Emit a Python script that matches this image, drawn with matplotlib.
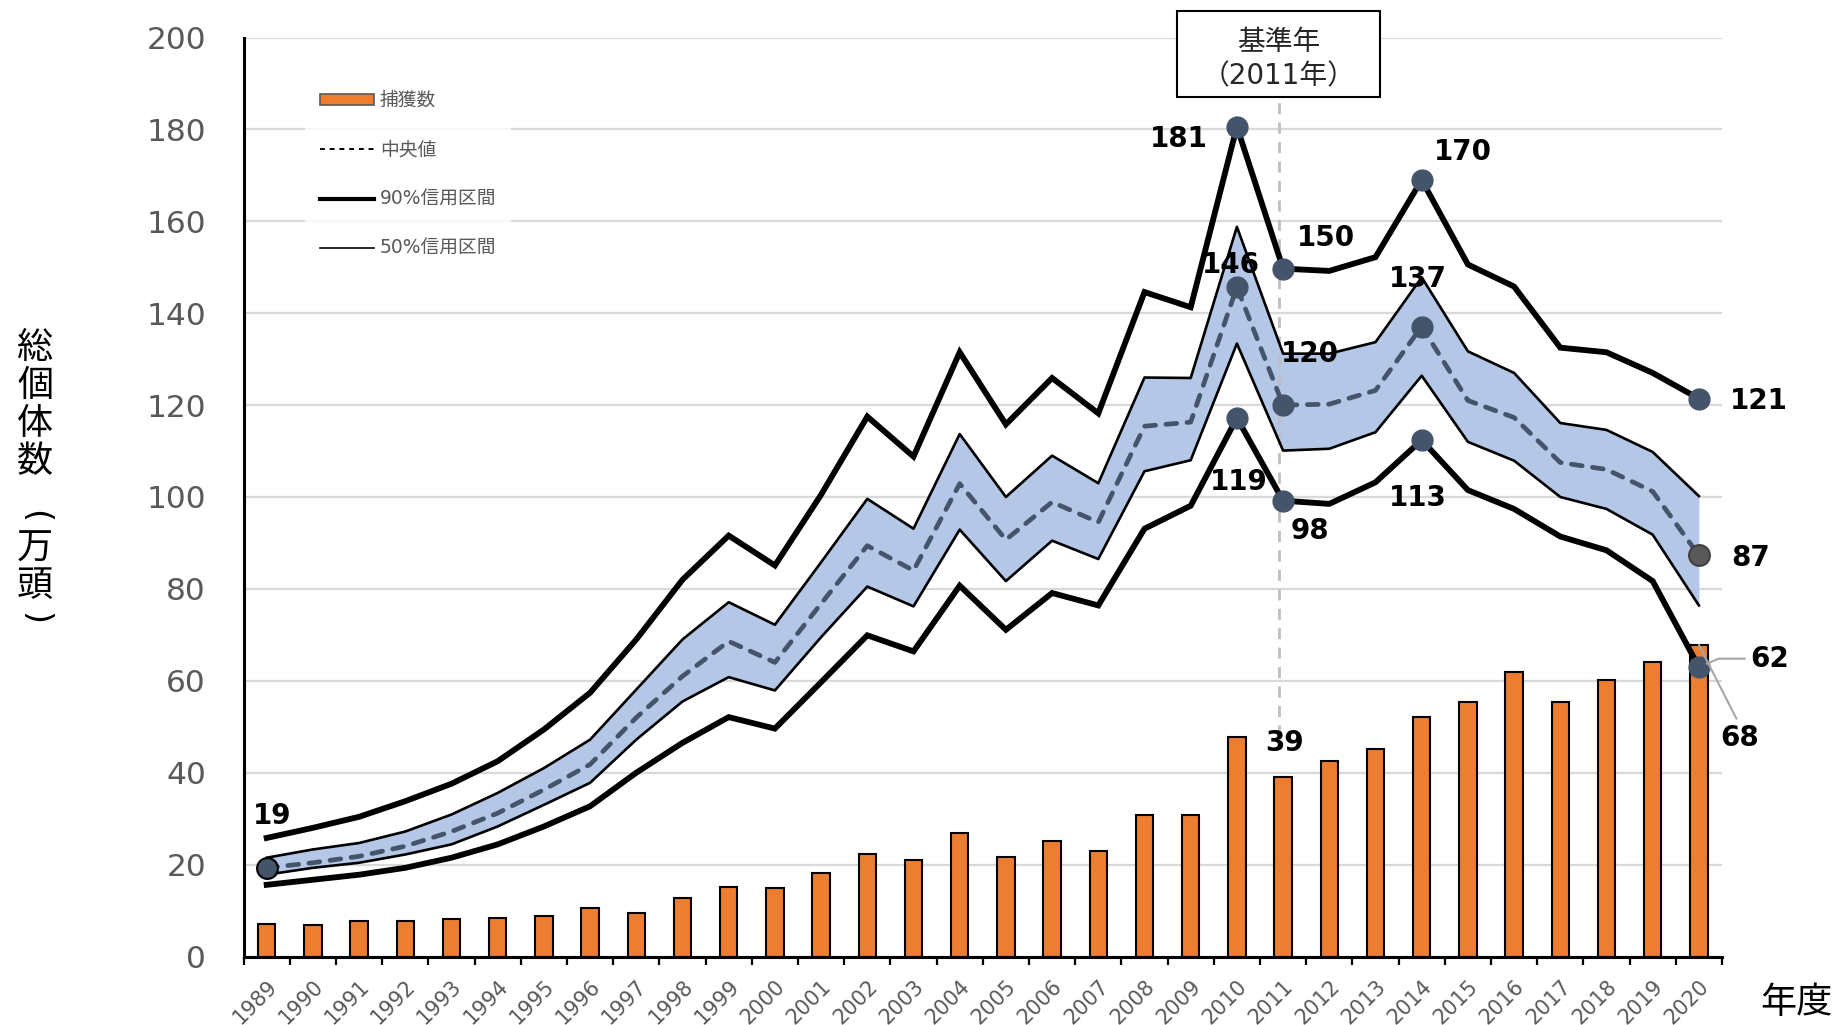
import numpy as np
import matplotlib
matplotlib.use("Agg")
import matplotlib.pyplot as plt
from matplotlib.patches import Patch, Rectangle
from matplotlib.lines import Line2D

plt.rcParams['font.family'] = ['DejaVu Sans', 'Noto Sans CJK JP']

# ---------------- data ----------------
years = [str(y) for y in range(1989, 2021)]

catch = [7.0, 6.9, 7.7, 7.8, 8.2, 8.4, 8.8, 10.5, 9.4, 12.8, 15.1, 14.8, 18.2,
         22.2, 20.9, 26.8, 21.6, 25.2, 23.0, 30.7, 30.8, 47.7, 39.0, 42.5,
         45.2, 52.1, 55.3, 62.0, 55.3, 60.2, 64.1, 67.8]

upper90 = [25.8, 28.0, 30.4, 33.8, 37.6, 42.5, 49.4, 57.4, 69.0, 82.0, 91.6,
           85.1, 100.5, 117.5, 108.8, 131.5, 115.8, 125.9, 118.2, 144.6, 141.3,
           180.6, 149.7, 149.2, 152.2, 169.0, 150.6, 145.8, 132.5, 131.5, 127.0,
           121.4]

upper50 = [21.5, 23.3, 24.7, 27.2, 30.9, 35.6, 41.0, 47.2, 58.1, 69.0, 77.1,
           72.2, 85.8, 99.6, 93.1, 113.7, 100.0, 109.0, 103.0, 126.0, 125.9,
           158.8, 131.2, 131.2, 133.7, 147.8, 131.7, 127.0, 116.1, 114.6, 109.8,
           100.2]

median = [19.3, 20.4, 21.8, 24.0, 27.2, 31.2, 36.3, 41.8, 52.0, 61.0, 68.6,
          64.0, 76.8, 89.4, 84.0, 102.9, 90.7, 98.9, 94.5, 115.4, 116.3,
          145.7, 120.0, 120.2, 123.2, 137.1, 121.0, 117.3, 107.5, 106.0, 101.2,
          87.3]

lower50 = [17.8, 19.3, 20.4, 22.2, 24.4, 28.3, 33.0, 37.8, 47.2, 55.5, 60.8,
           57.9, 69.5, 80.5, 76.2, 92.9, 81.7, 90.5, 86.5, 105.6, 108.0,
           133.4, 110.1, 110.5, 114.1, 126.4, 112.0, 107.9, 100.0, 97.4, 91.8,
           76.4]

lower90 = [15.6, 16.7, 17.8, 19.3, 21.5, 24.4, 28.3, 32.7, 40.0, 46.5, 52.1,
           49.6, 59.7, 69.9, 66.4, 80.7, 71.1, 79.1, 76.4, 93.1, 98.1,
           117.2, 99.2, 98.5, 103.2, 112.4, 101.5, 97.4, 91.4, 88.4, 81.7,
           63.0]

# highlighted years and their labels
mark_years = ['2010', '2011', '2014', '2020']
upper_labels = ['181', '150', '170', '121']
median_labels = ['146', '120', '137', '87']
lower_labels = ['119', '98', '113', '62']
start_label = '19'
bar_label_years = ['2011', '2020']
bar_labels = ['39', '68']

legend_labels = ['捕獲数', '中央値', '90%信用区間', '50%信用区間']
ylabel_chars = ['総', '個', '体', '数', '(', '万', '頭', ')']
xlabel = '年度'
base_year_text = '基準年\n（2011年）'
base_year = '2011'

# ---------------- style ----------------
ORANGE = '#ED7D31'
BAND = '#B4C7E7'
SLATE = '#44546A'
GRAY_TXT = '#595959'
GRID = '#D9D9D9'

W, H = 1838, 1025
fig = plt.figure(figsize=(W / 100, H / 100), dpi=100)
ax = fig.add_axes([243.6 / W, 1 - 956.5 / H, 1478.4 / W, 919 / H])

x = np.arange(len(years))
idx = {y: i for i, y in enumerate(years)}

ax.set_xlim(-0.5, len(years) - 0.5)
ax.set_ylim(0, 200)

# grid
ax.set_yticks(np.arange(0, 201, 20))
ax.yaxis.grid(True, color=GRID, lw=1.6, zorder=0)
ax.set_axisbelow(True)

# bars
ax.bar(x, catch, width=0.38, color=ORANGE, edgecolor='black', lw=1.5, zorder=2)

# band and lines
ax.fill_between(x, lower50, upper50, color=BAND, lw=0, zorder=3)
bx = idx[base_year] - 0.08
ax.plot([bx, bx], [48, 200], color='#BFBFBF', lw=2.0, dashes=(4, 3), zorder=3.5)
ax.plot(x, upper50, color='black', lw=1.9, zorder=4)
ax.plot(x, lower50, color='black', lw=1.9, zorder=4)
ax.plot(x, upper90, color='black', lw=4.2, zorder=4.2, solid_joinstyle='miter')
ax.plot(x, lower90, color='black', lw=4.2, zorder=4.2, solid_joinstyle='miter')
ax.plot(x, median, color=SLATE, lw=3.4, dashes=(2.3, 2.2), dash_capstyle='round',
        zorder=4.5)

# markers
mi = [idx[y] for y in mark_years]
ax.plot(mi, [upper90[i] for i in mi], 'o', ms=15, color=SLATE, zorder=6)
ax.plot(mi[:-1], [median[i] for i in mi[:-1]], 'o', ms=15, color=SLATE, zorder=6)
ax.plot(mi, [lower90[i] for i in mi], 'o', ms=15, color=SLATE, zorder=6)
ax.plot([mi[-1]], [median[mi[-1]]], 'o', ms=15, mfc=GRAY_TXT, mec='#404040',
        mew=1.5, zorder=6)
ax.plot([0], [median[0]], 'o', ms=15, mfc=SLATE, mec='black', mew=1.5, zorder=6)

# data labels
lab_kw = dict(fontsize=20, fontweight='bold', color='black', ha='center',
              va='center', textcoords='offset points', zorder=10)
up_off = [(-42, -9), (31, 22), (30, 20), (43, -2)]
med_off = [(-4, 16), (19, 37), (-3, 34), (37, -2)]
low_off = [(1, -46), (19, -22), (-3, -42), (51, 6)]
for k, i in enumerate(mi):
    ax.annotate(upper_labels[k], (i, upper90[i]), xytext=up_off[k], **lab_kw)
    ax.annotate(median_labels[k], (i, median[i]), xytext=med_off[k], **lab_kw)
    if k < 3:
        ax.annotate(lower_labels[k], (i, lower90[i]), xytext=low_off[k], **lab_kw)
    else:
        ax.annotate(lower_labels[k], (i, lower90[i]), xytext=low_off[k],
                    arrowprops=dict(arrowstyle='-', color='#A6A6A6', lw=1.5,
                                    shrinkA=2, shrinkB=6, relpos=(0, 0.5),
                                    connectionstyle='angle,angleA=0,angleB=23,rad=0'),
                    **lab_kw)
ax.annotate(start_label, (0, median[0]), xytext=(4, 37), **lab_kw)

bi = [idx[y] for y in bar_label_years]
ax.annotate(bar_labels[0], (bi[0], catch[bi[0]]), xytext=(1, 25), **lab_kw)
ax.annotate(bar_labels[1], (bi[1], catch[bi[1]]), xytext=(29, -67),
            arrowprops=dict(arrowstyle='-', color='#A6A6A6', lw=1.5,
                            shrinkA=2, shrinkB=0, relpos=(0.5, 1)),
            **lab_kw)

# axes styling
for s in ['top', 'right']:
    ax.spines[s].set_visible(False)
for s in ['left', 'bottom']:
    ax.spines[s].set_linewidth(2.2)
    ax.spines[s].set_color('black')
ax.tick_params(axis='y', length=0, pad=27, labelsize=22.5, labelcolor=GRAY_TXT)
ax.set_xticks(x)
ax.set_xticklabels(years, rotation=45, ha='right', va='top', rotation_mode='anchor',
                   fontsize=15, color=GRAY_TXT)
ax.set_xticks(np.arange(-0.5, len(years), 1), minor=True)
ax.tick_params(axis='x', which='major', length=0, pad=14)
ax.tick_params(axis='x', which='minor', length=6, width=1.6, color='black')

# legend
handles = [Patch(facecolor=ORANGE, edgecolor='#595959', lw=1.2),
           Line2D([], [], color='black', lw=1.4, dashes=(2.5, 2.5)),
           Line2D([], [], color='black', lw=3.0),
           Line2D([], [], color='black', lw=1.2)]
leg = ax.legend(handles, legend_labels, loc='upper left',
                bbox_to_anchor=(0.0413, 0.958), borderaxespad=0,
                frameon=True, fontsize=13.5, handlelength=2.9, handleheight=0.6,
                handletextpad=0.3, labelspacing=1.62, borderpad=0.8,
                labelcolor=GRAY_TXT, fancybox=False)
leg.get_frame().set_facecolor('white')
leg.get_frame().set_edgecolor('none')
leg.set_zorder(7)

# base year box
fig.add_artist(Rectangle((1177 / W, 1 - 97 / H), 203 / W, 86.5 / H,
                         transform=fig.transFigure, facecolor='white',
                         edgecolor='black', lw=1.5, zorder=20))
fig.text(1278.5 / W, 1 - 59 / H, base_year_text, ha='center', va='center',
         fontsize=20, linespacing=1.3, color='#262626', zorder=21)

# axis titles: vertical stacked characters (brackets rotated)
ycent = [348, 386, 424, 462, 516, 549, 586, 619]
for ch, yc in zip(ylabel_chars, ycent):
    if ch in ('(', ')'):
        fig.text(35 / W, 1 - yc / H, ch, ha='center', va='center',
                 fontsize=24, rotation=-90, color='black', family='DejaVu Sans')
    else:
        fig.text(35 / W, 1 - yc / H, ch, ha='center', va='center',
                 fontsize=26, color='black',
                 family=['Noto Sans CJK JP', 'DejaVu Sans'])
fig.text(1796 / W, 1 - 1003 / H, xlabel, ha='center', va='center', fontsize=26,
         color='black', family=['Noto Sans CJK JP', 'DejaVu Sans'])

fig.savefig('out.png', dpi=100)
